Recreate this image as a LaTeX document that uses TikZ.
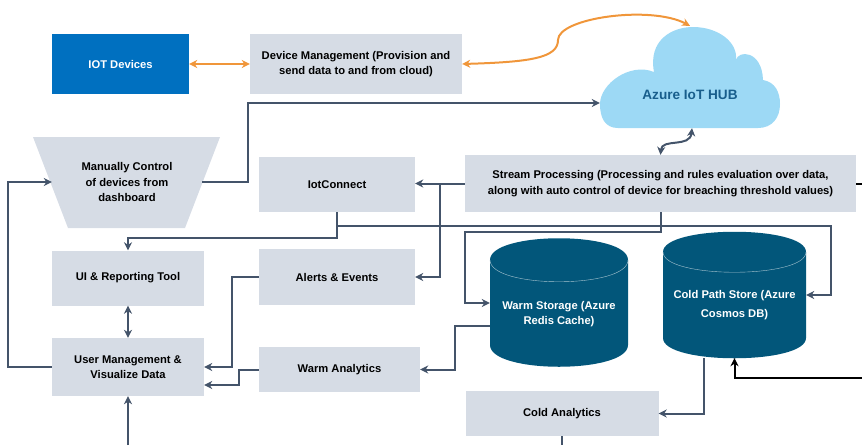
\documentclass[tikz,border=0pt]{standalone}
\usepackage{fontspec}
\setmainfont{Liberation Sans}
\usetikzlibrary{arrows.meta}
\definecolor{boxgray}{HTML}{D6DCE5}
\definecolor{iotblue}{HTML}{0070C0}
\definecolor{linegray}{HTML}{44546A}
\definecolor{wireorange}{HTML}{F0963A}
\definecolor{cloudblue}{HTML}{9DD9F5}
\definecolor{hubtext}{HTML}{185E8C}
\definecolor{dbblue}{HTML}{02567A}

\begin{document}
\begin{tikzpicture}[x=1pt,y=-1pt,>={Stealth[length=8pt,width=8pt,inset=2.5pt]},
    font=\fontsize{11.2}{15.5}\selectfont\bfseries,
    box node/.style={fill=boxgray,align=center,inner sep=0pt},
    db node/.style={align=center,text=white,inner sep=0pt},
    flow/.style={draw=linegray,line width=2pt},
    wire/.style={draw=wireorange,line width=2pt,<->}]

  \useasboundingbox (0,0) rectangle (862,445);

  \node[box node,fill=iotblue,text=white,minimum width=137pt,minimum height=60pt] (iot) at (120.5,64) {IOT Devices};
  \node[box node,minimum width=212pt,minimum height=60pt] (devmgmt) at (356,64) {Device Management (Provision and\\send data to and from cloud)};

  \fill[cloudblue] (618,128) .. controls (605,128) and (600,118) .. (600,104)
    .. controls (600,84) and (630,62) .. (654,72)
    .. controls (648,40) and (672,27) .. (693,27)
    .. controls (718,27) and (738,42) .. (736,60)
    .. controls (738,50) and (762,50) .. (763,80)
    .. controls (775,82) and (780,92) .. (780,104)
    .. controls (780,118) and (772,128) .. (758,128) -- cycle;
  \node[text=hubtext,font=\fontsize{13.6}{16}\selectfont\bfseries,minimum width=180pt,minimum height=70pt] (hub) at (690,95) {Azure IoT HUB};

  \fill[boxgray] (33,137) -- (220,137) -- (185,228) -- (68,228) -- cycle;
  \node[align=center,minimum width=150pt] (manual) at (127,182) {Manually Control\\of devices from\\dashboard};

  \node[box node,minimum width=156pt,minimum height=55pt] (iotc) at (337,184.5) {IotConnect};
  \node[box node,minimum width=391pt,minimum height=57pt] (stream) at (660.5,183.5) {Stream Processing (Processing and rules evaluation over data,\\along with auto control of device for breaching threshold values)};
  \node[box node,minimum width=152pt,minimum height=55pt] (ui) at (128,278) {UI \& Reporting Tool};
  \node[box node,minimum width=156pt,minimum height=56pt] (alerts) at (337,277) {Alerts \& Events};
  \node[box node,minimum width=152pt,minimum height=58pt] (user) at (128,367) {User Management \&\\Visualize Data};
  \node[box node,minimum width=161pt,minimum height=45pt] (warmana) at (339.5,369.5) {Warm Analytics};
  \node[box node,minimum width=193pt,minimum height=45pt] (cold) at (562,413.5) {Cold Analytics};

  \fill[dbblue] (490,260) -- (490,345) .. controls (490,374) and (628,374) .. (628,345)
    -- (628,260) .. controls (628,231) and (490,231) .. cycle;
  \draw[white!65!dbblue,thin] (490,260) .. controls (490,289) and (628,289) .. (628,260);
  \node[db node,minimum width=138pt] (warm) at (559,314) {Warm Storage (Azure\\Redis Cache)};

  \fill[dbblue] (663,252) -- (663,338) .. controls (663,365) and (806,365) .. (806,338)
    -- (806,252) .. controls (806,225) and (663,225) .. cycle;
  \draw[white!65!dbblue,thin] (663,252) .. controls (663,279) and (806,279) .. (806,252);
  \node[db node,minimum width=143pt,minimum height=106pt] (coldstore) at (734.5,305) {Cold Path Store (Azure\\[3.5pt]Cosmos DB)};

  \coordinate (userin) at (128,445);
  \coordinate (coldout) at (562,445);
  \coordinate (streamout) at (862,183.5);
  \coordinate (coldin) at (862,378);

  \draw[wire] (iot) -- (devmgmt);
  \draw[wire] (devmgmt.east) .. controls (530,62) and (558,58) .. (558,40)
    .. controls (558,18) and (650,5) .. ([yshift=34pt]hub.north);
  \draw[flow,<->] (stream.north) .. controls (662,138) and (690,148) .. ([xshift=2pt,yshift=2pt]hub.south);

  \draw[flow,->] (manual.east) -| (248,103) -- ([yshift=-8pt]hub.west);
  \draw[flow,->] (user.west) -- (8,367) |- (manual.west);
  \draw[flow,->] (stream.west) -- (stream.west -| iotc.east);
  \draw[flow,->] (stream.west) -| (440,277) -- (alerts.east);
  \draw[flow,->] (iotc.south) -- (337,238) -| (ui.north);
  \draw[flow,->] (iotc.south) |- (831,226) |- ([yshift=10pt]coldstore.east);
  \draw[flow,->] (stream.south) -- (660.5,232) -| (465,303) -- ([yshift=11pt]warm.west);
  \draw[flow,->] ([yshift=-12pt]warm.west) -- (455,326) |- (warmana.east);
  \draw[flow,->] (alerts.west) -- (232,277) |- (user.east);
  \draw[flow,->] (warmana.west) -- (239,369.5) |- ([yshift=-18pt]user.east);
  \draw[flow,<->] (ui.south) -- (user.north);
  \draw[flow,->] (userin) -- (user.south);
  \draw[flow,->] ([xshift=-30.5pt]coldstore.south) |- (cold.east);
  \draw[flow] (cold.south) -- (coldout);
  \draw[flow,draw=black] (stream.east) -- (streamout);
  \draw[flow,draw=black,->] (coldin) -| (coldstore.south);
\end{tikzpicture}
\end{document}
